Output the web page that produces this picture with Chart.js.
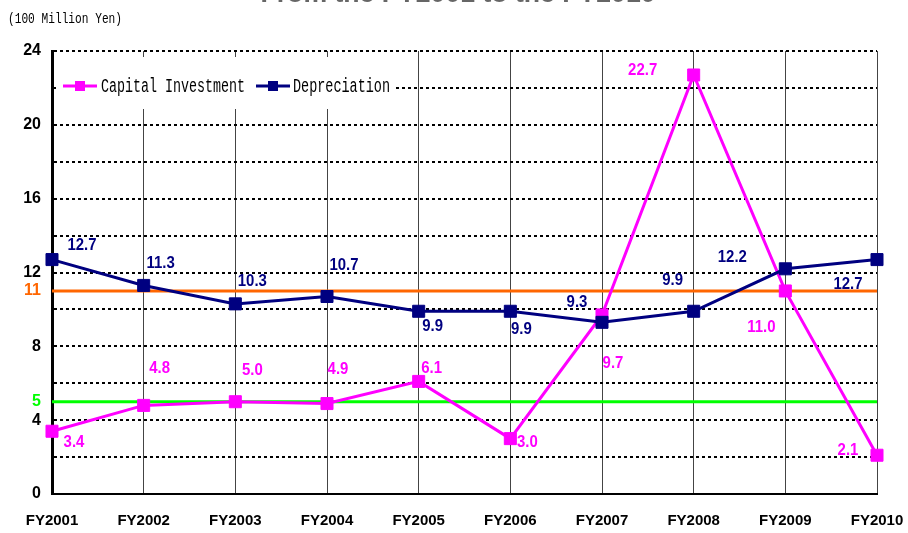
<!DOCTYPE html>
<html>
<head>
<meta charset="utf-8">
<script src="https://cdn.jsdelivr.net/npm/chart.js@4.4.1/dist/chart.umd.min.js"></script>
<style>
  html, body { margin: 0; padding: 0; background: #ffffff; }
  canvas { display: block; }
</style>
</head>
<body>
<canvas id="chart" width="908" height="533"></canvas>
<script>
// ---- data ----
const categories = ['FY2001', 'FY2002', 'FY2003', 'FY2004', 'FY2005', 'FY2006', 'FY2007', 'FY2008', 'FY2009', 'FY2010'];
const capitalInvestment = [3.4, 4.8, 5.0, 4.9, 6.1, 3.0, 9.7, 22.7, 11.0, 2.1];
const depreciation = [12.7, 11.3, 10.3, 10.7, 9.9, 9.9, 9.3, 9.9, 12.2, 12.7];
const seriesNames = ['Capital Investment', 'Depreciation'];
const yTickLabels = [0, 4, 8, 12, 16, 20, 24];
const yGridValues = [0, 2, 4, 6, 8, 10, 12, 14, 16, 18, 20, 22, 24];
const referenceValues = [11, 5];
const unitLabel = '(100 Million Yen)';
const titleText = 'From the FY2001 to the FY2010';

// ---- styling ----
const MAGENTA = '#FF00FF';
const NAVY = '#000080';
const ORANGE = '#FF6600';
const GREEN = '#00FF00';
const referenceColors = [ORANGE, GREEN];
const SANS = '"Liberation Sans", Arial, sans-serif';
const MONO = '"Liberation Mono", "DejaVu Sans Mono", monospace';

// value label placement relative to each point (dx, dy in px)
const capLabelOffsets = [[22, 11], [16, -37], [17, -31], [11, -34], [13, -13], [17, 4], [11, 48], [-51, -5], [-24, 36], [-29, -5]];
const depLabelOffsets = [[30, -14], [17, -22], [17, -23], [17, -31], [14, 15], [11, 18], [-25, -20], [-21, -31], [-53, -11], [-29, 25]];

// draw text squeezed/stretched horizontally to a given width
function drawFitted(ctx, text, x, y, font, width, align) {
  ctx.save();
  ctx.font = font;
  const w = ctx.measureText(text).width;
  ctx.translate(x, y);
  ctx.scale(width / w, 1);
  ctx.textAlign = align || 'left';
  ctx.textBaseline = 'alphabetic';
  ctx.fillText(text, 0, 0);
  ctx.restore();
}

const decorPlugin = {
  id: 'decor',
  beforeDatasetsDraw(chart) {
    const { ctx, chartArea, scales } = chart;
    // horizontal reference lines
    referenceValues.forEach((v, i) => {
      const y = scales.y.getPixelForValue(v);
      ctx.save();
      ctx.strokeStyle = referenceColors[i];
      ctx.lineWidth = 3;
      ctx.beginPath();
      ctx.moveTo(chartArea.left, y);
      ctx.lineTo(chartArea.right, y);
      ctx.stroke();
      ctx.restore();
    });
    // legend box
    ctx.save();
    ctx.fillStyle = '#ffffff';
    ctx.fillRect(56, 57, 338, 52);
    const items = [
      { x: 63, color: MAGENTA, text: seriesNames[0], tx: 101, tw: 144 },
      { x: 256, color: NAVY, text: seriesNames[1], tx: 293, tw: 97 }
    ];
    items.forEach(it => {
      ctx.strokeStyle = it.color;
      ctx.lineWidth = 3;
      ctx.beginPath();
      ctx.moveTo(it.x, 86);
      ctx.lineTo(it.x + 34, 86);
      ctx.stroke();
      ctx.fillStyle = it.color;
      ctx.fillRect(it.x + 12, 81, 10, 10);
      ctx.fillStyle = '#000000';
      drawFitted(ctx, it.text, it.tx, 92, '20px ' + MONO, it.tw, 'left');
    });
    ctx.restore();
  },
  afterDatasetsDraw(chart) {
    const { ctx } = chart;
    const drawLabels = (dsIndex, values, offsets, color) => {
      const meta = chart.getDatasetMeta(dsIndex);
      ctx.save();
      ctx.fillStyle = color;
      ctx.font = 'bold 17px ' + SANS;
      ctx.textAlign = 'center';
      ctx.textBaseline = 'middle';
      meta.data.forEach((pt, i) => {
        ctx.save();
        ctx.translate(pt.x + offsets[i][0], pt.y + offsets[i][1]);
        ctx.scale(0.88, 1);
        ctx.fillText(values[i].toFixed(1), 0, 0);
        ctx.restore();
      });
      ctx.restore();
    };
    drawLabels(0, capitalInvestment, capLabelOffsets, MAGENTA);
    drawLabels(1, depreciation, depLabelOffsets, NAVY);
  },
  afterDraw(chart) {
    const { ctx } = chart;
    ctx.save();
    ctx.fillStyle = '#000000';
    drawFitted(ctx, unitLabel, 8, 23, '15px ' + MONO, 114, 'left');
    ctx.fillStyle = '#666666';
    drawFitted(ctx, titleText, 458, 1.5, 'bold 24px ' + SANS, 395, 'center');
    ctx.restore();
  }
};

new Chart(document.getElementById('chart'), {
  type: 'line',
  data: {
    labels: categories,
    datasets: [
      {
        label: seriesNames[0],
        data: capitalInvestment,
        borderColor: MAGENTA,
        backgroundColor: MAGENTA,
        borderWidth: 3,
        pointStyle: 'rect',
        pointRadius: 8.5,
        pointBorderWidth: 1,
        pointBackgroundColor: MAGENTA,
        pointBorderColor: MAGENTA,
        tension: 0,
        order: 1
      },
      {
        label: seriesNames[1],
        data: depreciation,
        borderColor: NAVY,
        backgroundColor: NAVY,
        borderWidth: 3,
        pointStyle: 'rect',
        pointRadius: 8.5,
        pointBorderWidth: 1,
        pointBackgroundColor: NAVY,
        pointBorderColor: NAVY,
        tension: 0,
        order: 0
      }
    ]
  },
  options: {
    responsive: false,
    animation: false,
    devicePixelRatio: 1,
    layout: { padding: { top: 51, right: 31, left: 0, bottom: 0 } },
    plugins: {
      legend: { display: false },
      title: { display: false },
      tooltip: { enabled: false }
    },
    scales: {
      x: {
        type: 'category',
        offset: false,
        afterFit: s => { s.height = 39; s.paddingLeft = 0; s.paddingRight = 0; },
        grid: {
          color: '#444444',
          lineWidth: 1,
          drawTicks: false
        },
        border: { display: true, color: '#000000', width: 2 },
        ticks: {
          color: '#000000',
          padding: 18,
          maxRotation: 0,
          autoSkip: false,
          font: { family: SANS, size: 15, weight: 'bold' }
        }
      },
      y: {
        min: 0,
        max: 24,
        afterFit: s => { s.width = 52; s.paddingTop = 0; s.paddingBottom = 0; },
        afterBuildTicks: s => {
          const vals = Array.from(new Set([...yGridValues, ...referenceValues])).sort((a, b) => a - b);
          s.ticks = vals.map(v => ({ value: v }));
        },
        grid: {
          drawTicks: false,
          lineWidth: 2,
          color: ctx => {
            const v = ctx.tick && ctx.tick.value;
            if (referenceValues.includes(v) || v === 0) return 'rgba(0,0,0,0)';
            return '#000000';
          }
        },
        border: { display: true, color: '#000000', width: 3, dash: [3, 3] },
        ticks: {
          autoSkip: false,
          padding: 11,
          font: { family: SANS, size: 16, weight: 'bold' },
          color: ctx => {
            const v = ctx.tick && ctx.tick.value;
            if (v === referenceValues[0]) return referenceColors[0];
            if (v === referenceValues[1]) return referenceColors[1];
            return '#000000';
          },
          callback: v => (yTickLabels.includes(v) || referenceValues.includes(v)) ? String(v) : ''
        }
      }
    }
  },
  plugins: [decorPlugin]
});
</script>
</body>
</html>
